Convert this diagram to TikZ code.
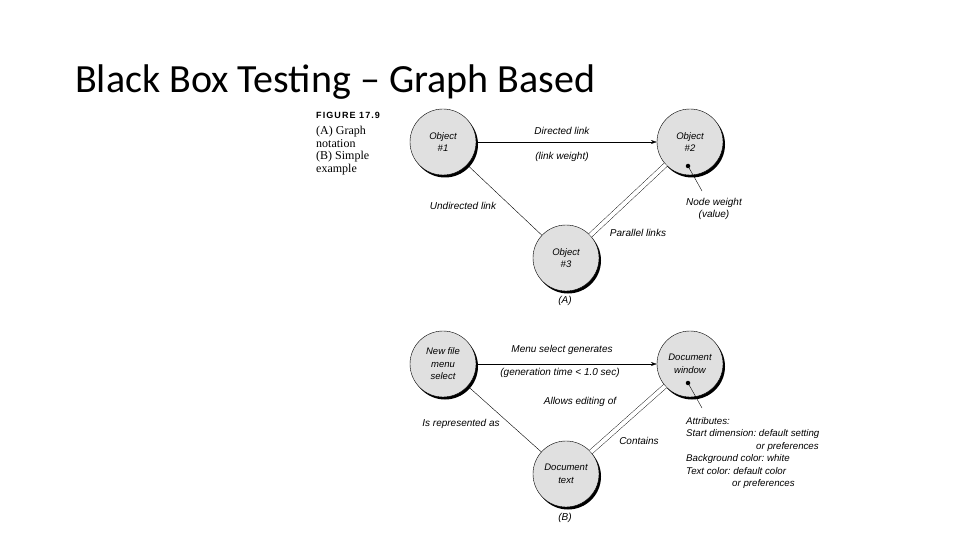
\documentclass[tikz,border=0pt]{standalone}
\usepackage{fontspec}
\setmainfont{Liberation Sans}
\newfontfamily\titlefont{Carlito}
\newfontfamily\capfont{Liberation Serif}
\usetikzlibrary{arrows.meta,shadows,positioning}

\tikzset{
  obj/.style={circle, draw, thin, fill=black!12, minimum size=66pt, inner sep=0pt,
    align=center, font=\itshape\fontsize{9.5}{12.5}\selectfont,
    drop shadow={shadow xshift=2pt, shadow yshift=-2.5pt, fill=black, opacity=1}},
  lbl/.style={font=\itshape\fontsize{10}{12}\selectfont, inner sep=1pt},
  wdot/.style={circle, fill=black, inner sep=0pt, minimum size=4.5pt},
  link/.style={-{Stealth[length=6pt,width=4pt]}},
}

\begin{document}
\frenchspacing
\begin{tikzpicture}[x=1pt,y=-1pt]
		\useasboundingbox (0,0) rectangle (960,540);
		
		% Title
		\node[anchor=base west, inner sep=0pt, font=\titlefont\fontsize{40}{46}\selectfont] (title) at (75,93) {Black Box Testing – Graph Based};
		
		% Figure caption
		\node[anchor=west, inner sep=0pt, font=\bfseries\fontsize{9}{10}\selectfont\addfontfeature{LetterSpace=12}] (figlbl) at (316,115) {FIGURE 17.9};
		\node[anchor=north west, inner sep=0pt, align=left, font=\capfont\fontsize{12}{12.7}\selectfont] (figcap) at (316,126) {(A) Graph\\notation\\(B) Simple\\example};
		
		% (A) graph notation
		\node[obj] (o1) at (443,142) {Object\\\#1};
		\node[obj] (o2) at (690,142) {Object\\\#2};
		\node[obj] (o3) at (566,258) {Object\\\#3};
		
		\draw[link] (o1) -- (o2);
		\draw (o1) -- (o3);
		\draw[double distance=4pt] (o2) -- (o3);
		
		\node[lbl] (dl) at (562,131) {Directed link};
		\node[lbl] (lw) at (562,157) {(link weight)};
		\node[lbl] (ul) at (463,206) {Undirected link};
		\node[lbl] (pl) at (638,233) {Parallel links};
		\node[lbl, align=center] (nw) at (714,209) {Node weight\\(value)};
		\node[lbl] (capA) at (565,301) {(A)};
		
		% Node weight marker
		\node[wdot] (w1) at (688,166) {};
		\coordinate (w1end) at (702,191);
		\draw (w1.center) -- (w1end);
		
		% (B) simple example
		\node[obj] (b1) at (443,364) {New file\\menu\\select};
		\node[obj] (b2) at (690,364) {Document\\window};
		\node[obj] (b3) at (566,474) {Document\\text};
		
		\draw[link] (b1) -- (b2);
		\draw (b1) -- (b3);
		\draw[double distance=4pt] (b2) -- (b3);
		
		\node[lbl] (msg) at (562,350) {Menu select generates};
		\node[lbl] (gt) at (560,373) {(generation time < 1.0 sec)};
		\node[lbl] (ae) at (580,402) {Allows editing of};
		\node[lbl] (ra) at (461,424) {Is represented as};
		\node[lbl] (ct) at (639,441) {Contains};
		\node[lbl] (capB) at (565,518) {(B)};
		
		% Attributes
		\node[wdot] (w2) at (688,383) {};
		\coordinate (w2end) at (702,408);
		\draw (w2.center) -- (w2end);
		\node[lbl, anchor=north west, align=left, inner sep=0pt, font=\itshape\fontsize{9.7}{12.5}\selectfont] (attr) at (686,417) {Attributes:\\Start dimension: default setting\\\hspace*{70pt}or preferences\\Background color: white\\Text color: default color\\\hspace*{46pt}or preferences};
	\end{tikzpicture}
\end{document}
